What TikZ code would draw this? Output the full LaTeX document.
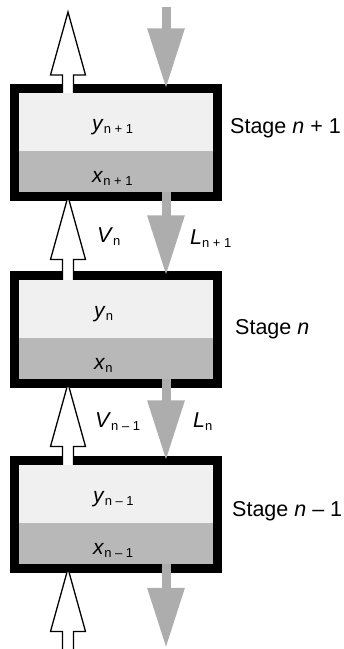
\documentclass[tikz,border=0pt]{standalone}
\usepackage{fontspec}
\setmainfont{Liberation Sans}
\usetikzlibrary{calc,arrows.meta}
\definecolor{lightfill}{gray}{0.94}
\definecolor{darkfill}{gray}{0.72}
\definecolor{liquidgray}{gray}{0.68}
\newcommand\subidx[1]{\raisebox{-3pt}{\fontsize{13}{13}\selectfont #1}}
\begin{document}
\begin{tikzpicture}[x=1pt,y=1pt]\tikzstyle{every node}=[font=\fontsize{21.5}{26}\selectfont]
\tikzstyle{stage}=[draw, line width=9pt, outer sep=0pt, inner sep=0pt, minimum width=203pt, minimum height=108pt, fill=lightfill,
  path picture={\fill[darkfill] (path picture bounding box.south west) rectangle ([yshift=-8.5pt]path picture bounding box.east);}]
\tikzstyle{vapour}=[draw, fill=white, line width=1.3pt, line join=miter]
\tikzstyle{liquid}=[draw=liquidgray, line width=9pt, -{Triangle[width=35pt,length=60pt]}]
\tikzstyle{conc}=[anchor=base west, inner sep=0pt, font=\fontsize{21}{24}\selectfont]
\tikzstyle{flow}=[anchor=base west, inner sep=0pt]
\useasboundingbox (0,0) rectangle (344,649);
% free ends
  \coordinate (vtop) at (68,637);
  \coordinate (vbot) at (68,0);
  \coordinate (ltop) at (166,642);
  \coordinate (lbot) at (166,1);
% stages
  \node[stage] (s1) at (116,506.5) {};
  \node[stage] (s2) at (116,319.5) {};
  \node[stage] (s3) at (116,134.5) {};
%%%%%%%%%%%%%%%%
% vapour, going up
\draw[vapour] let \p1=([xshift=-48pt]s1.north), \p2=(vtop) in
  (\x2-5.5pt,\y1-4.5pt) -- (\x2-5.5pt,\y2-63pt) -- (\x2-17.5pt,\y2-63pt) -- (\p2)
  -- (\x2+17.5pt,\y2-63pt) -- (\x2+5.5pt,\y2-63pt) -- (\x2+5.5pt,\y1-4.5pt);
\draw[vapour] let \p1=([xshift=-48pt]s2.north), \p2=([xshift=-48pt]s1.south) in
  (\x2-5.5pt,\y1-4.5pt) -- (\x2-5.5pt,\y2-63pt) -- (\x2-17.5pt,\y2-63pt) -- (\p2)
  -- (\x2+17.5pt,\y2-63pt) -- (\x2+5.5pt,\y2-63pt) -- (\x2+5.5pt,\y1-4.5pt);
\draw[vapour] let \p1=([xshift=-48pt]s3.north), \p2=([xshift=-48pt]s2.south) in
  (\x2-5.5pt,\y1-4.5pt) -- (\x2-5.5pt,\y2-63pt) -- (\x2-17.5pt,\y2-63pt) -- (\p2)
  -- (\x2+17.5pt,\y2-63pt) -- (\x2+5.5pt,\y2-63pt) -- (\x2+5.5pt,\y1-4.5pt);
\draw[vapour] let \p1=(vbot), \p2=([xshift=-48pt]s3.south) in
  (\x2-5.5pt,\y1) -- (\x2-5.5pt,\y2-63pt) -- (\x2-17.5pt,\y2-63pt) -- (\p2)
  -- (\x2+17.5pt,\y2-63pt) -- (\x2+5.5pt,\y2-63pt) -- (\x2+5.5pt,\y1);
% liquid, going down
\draw[liquid] (ltop) -- ([xshift=50pt]s1.north);
\draw[liquid] ([xshift=50pt,yshift=4.5pt]s1.south) -- ([xshift=50pt]s2.north);
\draw[liquid] ([xshift=50pt,yshift=4.5pt]s2.south) -- ([xshift=50pt]s3.north);
\draw[liquid] ([xshift=50pt,yshift=4.5pt]s3.south) -- (lbot);
% concentrations
  \node[conc] (y1) at ([xshift=-24pt,yshift=12pt]s1.center) {\textit{y}\subidx{n + 1}};
  \node[conc] (x1) at ([xshift=-24pt,yshift=-40pt]s1.center) {\textit{x}\subidx{n + 1}};
  \node[conc] (y2) at ([xshift=-22pt,yshift=12pt]s2.center) {\textit{y}\subidx{n}};
  \node[conc] (x2) at ([xshift=-22pt,yshift=-40pt]s2.center) {\textit{x}\subidx{n}};
  \node[conc] (y3) at ([xshift=-23pt,yshift=12pt]s3.center) {\textit{y}\subidx{n – 1}};
  \node[conc] (x3) at ([xshift=-23pt,yshift=-40pt]s3.center) {\textit{x}\subidx{n – 1}};
% stage names
  \node[flow] (st1) at ([xshift=12.5pt,yshift=8.5pt]s1.east) {Stage \textit{n} + 1};
  \node[flow] (st2) at ([xshift=17.5pt,yshift=-5.5pt]s2.east) {Stage \textit{n}};
  \node[flow] (st3) at ([xshift=14.5pt,yshift=-2.5pt]s3.east) {Stage \textit{n} – 1};
% flows
  \node[flow] (vn) at ([xshift=-19pt,yshift=-7pt]$(s2.north)!0.5!(s1.south)$) {\textit{V}\subidx{n}};
  \node[flow] (ln1) at ([xshift=74pt,yshift=-9pt]$(s2.north)!0.5!(s1.south)$) {\textit{L}\subidx{n + 1}};
  \node[flow] (vn1) at ([xshift=-21pt,yshift=-6pt]$(s3.north)!0.5!(s2.south)$) {\textit{V}\subidx{n – 1}};
  \node[flow] (ln) at ([xshift=77pt,yshift=-6pt]$(s3.north)!0.5!(s2.south)$) {\textit{L}\subidx{n}};
\end{tikzpicture}
\end{document}
